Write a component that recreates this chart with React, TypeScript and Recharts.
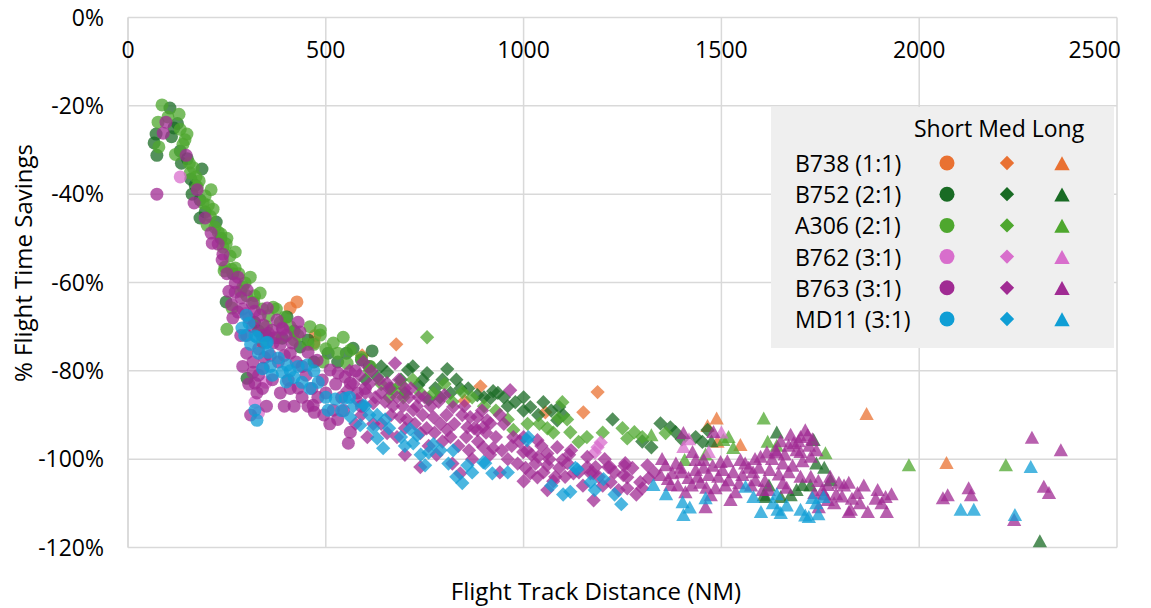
import { ScatterChart, Scatter, XAxis, YAxis, CartesianGrid, Label } from 'recharts'

const FONT = '"Open Sans", sans-serif'
const GRID = '#D9D9D9'
const FS = 23

type Pt = [number, number]

const X_TICKS = [0, 500, 1000, 1500, 2000, 2500]
const Y_TICKS = [-120, -100, -80, -60, -40, -20, 0]
const AIRCRAFT = ['B738 (1:1)', 'B752 (2:1)', 'A306 (2:1)', 'B762 (3:1)', 'B763 (3:1)', 'MD11 (3:1)']
const COLORS = ['#E97132', '#196B24', '#4EA72E', '#D86ECC', '#A02B93', '#0F9ED5']
const BANDS = ['Short', 'Med', 'Long']

// B738
const b738Short: Pt[] = [[410, -65.8], [427, -64.4], [473, -72], [470, -73.6]]
const b738Med: Pt[] = [[592, -76.5], [678, -74], [851, -86.8], [891, -83.5], [1055, -89.4], [1151, -89.4], [1187, -84.8]]
const b738Long: Pt[] = [[1465, -92.5], [1488, -90.8], [1490, -96.1], [1548, -96.8], [1867, -89.8], [2069, -100.9]]

// B752
const b752Short: Pt[] = [[106, -20.5], [116, -25], [125, -24], [71, -26.4], [110, -27], [66, -28.4], [132, -30.2], [73, -31.2],
  [150, -32], [135, -33], [187, -34.3], [159, -36.6], [170, -38], [162, -40], [182, -41.3], [195, -44], [182, -45.4],
  [223, -46.3], [235, -50], [265, -58], [248, -64.4], [320, -69], [301, -81.7], [402, -67.8], [350, -72], [420, -71],
  [390, -72.6], [330, -71], [455, -73], [435, -74.6], [470, -78], [506, -76], [530, -78], [552, -76], [569, -74.9],
  [590, -77.5], [610, -79], [617, -75.5]]
const b752Med: Pt[] = [[600, -82], [630, -81.4], [640, -79], [655, -80.3], [665, -84], [690, -82], [700, -85], [708, -79.8],
  [720, -79], [734, -83.2], [745, -82], [756, -80.5], [760, -86.5], [777, -83.9], [789, -86], [795, -82], [807, -79.6],
  [815, -85], [830, -82], [840, -84], [860, -84], [883, -85.5], [900, -86], [916, -86.2], [923, -84.6], [935, -85],
  [950, -86], [960, -88], [979, -87.1], [1000, -89], [1000, -86], [1017, -88.2], [1037, -90], [1050, -87.1], [1070, -89],
  [1085, -91.2], [1090, -88.2], [1100, -90], [1225, -91], [1300, -96], [1323, -97.3], [1346, -91.9], [1371, -92.8],
  [1384, -93.9], [1400, -95.5], [1435, -95], [1452, -96.1], [1465, -93.4]]
const b752Long: Pt[] = [[1475, -96], [1607, -108.2], [1612, -108.6], [1620, -106], [1640, -94], [1650, -108.6], [1675, -108.2],
  [1690, -107], [1705, -105.9], [1725, -106], [1733, -95.7], [1740, -101], [1760, -102], [1776, -104.8], [2305, -118.6]]

// A306
const a306Short: Pt[] = [[86, -19.8], [129, -21.9], [101, -22.5], [76, -23.7], [132, -25.3], [149, -26.4], [144, -27.7], [78, -29.3],
  [139, -28.7], [120, -31], [155, -33], [165, -34], [157, -35.2], [172, -36.1], [180, -37], [175, -38.4], [210, -39],
  [195, -40.4], [190, -42], [203, -42.5], [215, -43.4], [208, -45], [200, -47], [220, -47.5], [228, -48.6], [235, -49],
  [250, -50], [248, -51.3], [240, -52], [271, -53.1], [258, -54], [245, -56.5], [271, -56.7], [262, -57], [243, -57.4],
  [280, -58], [309, -58.8], [296, -60.1], [290, -61], [285, -62], [334, -62.4], [300, -63], [320, -63], [318, -64.5],
  [263, -65.8], [367, -65.6], [340, -66], [375, -66], [355, -67.5], [397, -67.8], [385, -69], [250, -70.6], [350, -70],
  [410, -70], [460, -70], [430, -72], [380, -72.5], [420, -73], [340, -73.5], [455, -74], [470, -74], [500, -75],
  [486, -70.8], [486, -71.9], [519, -73.7], [544, -72.4], [530, -76], [493, -78], [562, -75.3], [554, -78.3], [590, -77],
  [612, -79]]
const a306Med: Pt[] = [[610, -80], [640, -83], [660, -86], [675, -84.4], [690, -83], [696, -86], [720, -82], [740, -85],
  [756, -72.4], [772, -85], [800, -83], [820, -87], [845, -84.8], [870, -86], [900, -88], [930, -89], [960, -91],
  [974, -93.4], [1010, -92], [1040, -92], [1060, -93], [1075, -94], [1088, -90.7], [1098, -87.1], [1110, -91],
  [1118, -93.9], [1139, -96.1], [1160, -95], [1200, -94], [1250, -93], [1262, -95.3], [1280, -93.9], [1300, -95], [1359, -94.1]]
const a306Long: Pt[] = [[1323, -94.6], [1407, -100.2], [1460, -99], [1505, -95.7], [1518, -95], [1530, -97.5], [1607, -90.8],
  [1617, -96.1], [1640, -97], [1763, -98.7], [1974, -101.4], [2219, -101.4]]

// B762
const b762Short: Pt[] = [[132, -36.1], [298, -67], [349, -82.6], [321, -87.1], [330, -89.5]]
const b762Med: Pt[] = [[1180, -98.5], [1187, -97.3], [1195, -96.2]]
const b762Long: Pt[] = [[1404, -97.3], [1418, -95.5], [1468, -98.4], [1500, -94]]

// B763
const b763Short: Pt[] = [[96, -23.7], [89, -26.2], [147, -31.2], [73, -40], [175, -39], [167, -42], [195, -45.4], [210, -48.8],
  [213, -51.1], [228, -51.3], [240, -53.6], [238, -54.9], [250, -58], [278, -58.8], [271, -60.1], [255, -62], [271, -62.2],
  [301, -61.7], [314, -64.7], [286, -63.5], [262, -65], [290, -66], [320, -66.5], [352, -65.8], [278, -66.7], [334, -67.4],
  [265, -68], [305, -68], [377, -68.5], [430, -69], [364, -70.8], [390, -70.3], [342, -69.6], [315, -70], [392, -70.6],
  [355, -71.5], [435, -71.2], [300, -72], [285, -72], [338, -72], [372, -72.5], [400, -72], [367, -73.7], [415, -73.7],
  [385, -74], [330, -75], [455, -75.8], [300, -76], [410, -76], [395, -76.5], [360, -76.5], [345, -77], [478, -77.6],
  [316, -78], [380, -78], [425, -78], [440, -79], [290, -79], [342, -79.4], [316, -80.3], [511, -79.8], [575, -80],
  [531, -80.5], [330, -81], [450, -81], [549, -81.4], [405, -82.1], [491, -82.1], [365, -82], [321, -82.8], [562, -82.8],
  [305, -83], [525, -83], [430, -83.9], [340, -84], [465, -84], [600, -84], [410, -84], [326, -85], [385, -85], [500, -85],
  [580, -85], [540, -86], [480, -86], [440, -86], [468, -87.8], [455, -88], [420, -88], [395, -88], [350, -88], [590, -88],
  [519, -88.9], [545, -89], [471, -89.4], [310, -90], [495, -90], [530, -91], [510, -92], [562, -93.9], [557, -96.4]]
const b763Med: Pt[] = [[595, -78], [675, -78.3], [560, -80], [615, -80], [585, -81], [685, -82], [610, -83], [570, -83],
  [635, -82], [655, -82.8], [700, -84], [715, -84], [660, -84], [554, -84.4], [640, -85], [600, -85], [800, -85.5],
  [750, -86], [710, -86], [680, -86], [735, -86], [579, -86.6], [625, -86], [620, -87.3], [650, -87], [785, -87],
  [670, -88], [730, -88], [765, -88], [695, -88], [822, -88.2], [850, -88], [721, -88.9], [895, -89], [966, -84.4],
  [590, -90], [665, -90], [745, -90], [805, -90], [845, -90], [940, -90], [688, -90.5], [772, -90.5], [865, -90.5],
  [883, -90.5], [705, -91], [908, -91.2], [916, -91.9], [620, -92], [575, -92], [640, -92], [725, -92], [790, -92],
  [825, -92], [950, -92], [858, -92.8], [898, -92.8], [700, -93], [755, -93], [875, -93], [807, -93.4], [883, -93.4],
  [655, -94.1], [739, -94.1], [775, -94], [905, -94], [974, -95], [1000, -95], [815, -95], [855, -95], [930, -95],
  [680, -95], [605, -95], [1035, -95.7], [760, -97], [795, -96], [885, -96], [990, -96], [898, -97.3], [1085, -97.3],
  [835, -97], [970, -97], [1045, -97], [923, -97.5], [1009, -98], [1120, -98], [862, -98], [945, -98], [999, -98.4],
  [1060, -98.7], [1037, -99.5], [1161, -99.5], [700, -99], [780, -99], [915, -99], [1020, -99], [1115, -99], [870, -100],
  [960, -100], [1065, -100], [1205, -100], [1098, -100.2], [1111, -100.9], [1257, -100.9], [1060, -101.4], [1313, -101.4],
  [985, -101], [1030, -101], [820, -101], [739, -101.8], [1161, -101.8], [1182, -101.8], [1214, -101.8], [1219, -101.8],
  [1255, -101.5], [1005, -102], [1090, -102], [1275, -102], [840, -103.2], [1017, -103.2], [1126, -103.2], [1169, -103.2],
  [1176, -103.2], [1050, -103], [1140, -103], [1230, -103], [1330, -103], [940, -103], [1252, -103.6], [1035, -104.1],
  [1262, -104.1], [1080, -104], [1105, -104], [1190, -104], [1316, -104.3], [1220, -105.2], [1295, -105.2], [1075, -105],
  [1000, -105], [1200, -106], [1150, -106], [1262, -106.6], [1300, -106.6], [1240, -107], [1060, -107], [1285, -108],
  [1177, -109.3]]
const b763Long: Pt[] = [[1712, -93.5], [1404, -94.1], [1480, -93.9], [1718, -94.6], [1675, -94.5], [1700, -95], [1730, -95.5],
  [1683, -96.4], [1695, -96], [1650, -96], [1670, -97], [1722, -97], [1427, -98.4], [1637, -98], [1690, -98], [1740, -98],
  [1640, -98.5], [1615, -98.5], [1700, -98.4], [1599, -99.5], [1726, -99.5], [1660, -99], [1350, -100], [1435, -100.2],
  [1455, -100.2], [1548, -100.2], [1628, -100], [1585, -100], [1515, -100.5], [1705, -100.5], [1498, -100.7], [1655, -101],
  [1385, -101], [1560, -101], [1478, -101.5], [1680, -101.5], [1359, -101.4], [1397, -102], [1569, -102], [1595, -102],
  [1435, -102.5], [1503, -102.5], [1622, -102.5], [1455, -102], [1670, -103], [1400, -103], [1530, -103], [1580, -103],
  [1376, -103.2], [1346, -103.6], [1468, -103.6], [1553, -103.6], [1645, -103.5], [1700, -104], [1726, -104], [1440, -104],
  [1492, -104], [1775, -104], [1417, -104.3], [1365, -104.5], [1518, -104.8], [1586, -104.8], [1610, -105], [1745, -105],
  [1447, -105.4], [1797, -105.4], [1822, -105.4], [1545, -105.5], [1655, -105.5], [1371, -105.9], [1769, -105.9],
  [1390, -106], [1425, -106], [1510, -106], [1575, -106], [1810, -106], [1860, -106], [1462, -106.5], [1665, -106.5],
  [1485, -106.6], [1604, -107], [1620, -107], [1755, -107], [1895, -107], [1409, -107.5], [1536, -107.5], [1735, -107.7],
  [1844, -107.7], [1760, -108], [1790, -108], [1930, -108], [1473, -108.2], [1805, -108.5], [1915, -108.6], [1890, -109],
  [1830, -109], [1523, -109.3], [1769, -109.3], [1785, -110], [1850, -110], [1905, -110], [1460, -110.9], [1746, -110.9],
  [1827, -111.5], [1822, -112], [1870, -112], [1918, -112], [2285, -95.2], [2358, -98], [2125, -106.6], [2315, -106.3],
  [2328, -107.7], [2072, -108.2], [2131, -108.2], [2060, -108.9], [2240, -113.8]]

// MD11
const md11Short: Pt[] = [[299, -67.4], [306, -69.2], [288, -70.3], [321, -72.1], [295, -72], [326, -72.4], [352, -73.5],
  [349, -73.7], [310, -74], [354, -75.8], [330, -76], [380, -77.1], [402, -78.7], [453, -78.7], [430, -79], [360, -79],
  [340, -79.5], [410, -80], [470, -80], [390, -80.3], [365, -81], [420, -81.5], [400, -82.5], [440, -82.6], [481, -82.6],
  [460, -84], [549, -86.2], [500, -86], [560, -86], [524, -86.4], [321, -88.9], [506, -88.9], [540, -89], [326, -91.2]]
const md11Med: Pt[] = [[595, -87.8], [570, -88], [600, -88], [630, -90], [610, -90], [562, -90.5], [650, -91], [587, -92.3],
  [620, -93], [660, -93], [713, -93.2], [731, -94.6], [690, -95], [1012, -95], [630, -95.3], [1009, -95.7], [721, -96.4],
  [772, -96.6], [700, -97], [645, -97.5], [822, -98], [790, -98], [760, -98.5], [740, -99], [898, -100.7], [903, -100.9],
  [810, -101], [751, -101.4], [858, -101.4], [1131, -102], [1136, -102.3], [921, -103.2], [870, -103], [960, -103],
  [830, -104], [1202, -104.5], [1169, -105.2], [845, -105.4], [1070, -106], [1180, -107], [1118, -107.4], [1100, -108],
  [1230, -108], [1247, -110.2]]
const md11Long: Pt[] = [[1328, -105.9], [1561, -106.3], [1360, -108], [1640, -108], [1581, -108.6], [1758, -108.6], [1730, -108.8],
  [1460, -108.9], [1402, -109.8], [1630, -110], [1740, -110], [1665, -110.5], [1420, -111], [1642, -111.5], [1700, -111.5],
  [1600, -112], [1650, -112.2], [1745, -112.5], [1404, -112.7], [1712, -112.8], [1721, -113.1], [2105, -111.5], [2138, -111.5],
  [2242, -112.7], [2282, -101.8]]

const GROUPS: Pt[][][] = [
  [b738Short, b738Med, b738Long],
  [b752Short, b752Med, b752Long],
  [a306Short, a306Med, a306Long],
  [b762Short, b762Med, b762Long],
  [b763Short, b763Med, b763Long],
  [md11Short, md11Med, md11Long],
]

const toPts = (arr: Pt[]) => arr.map(([x, y]) => ({ x, y }))

function marker(band: number, cx: number, cy: number, color: string, s: number, op: number) {
  if (band === 0) return <circle cx={cx} cy={cy} r={s * 0.5} fill={color} fillOpacity={op} />
  if (band === 1) {
    const h = s * 0.55
    return <polygon points={`${cx},${cy - h} ${cx + h},${cy} ${cx},${cy + h} ${cx - h},${cy}`} fill={color} fillOpacity={op} />
  }
  const w = s * 0.55
  return <polygon points={`${cx},${cy - s * 0.55} ${cx + w},${cy + s * 0.45} ${cx - w},${cy + s * 0.45}`} fill={color} fillOpacity={op} />
}

const XTick = ({ x, payload }: any) => {
  const last = payload.value === 2500
  return (
    <text x={last ? x + 4 : x} y={58} textAnchor={last ? 'end' : 'middle'} fontSize={FS} fontFamily={FONT} fill="#000">
      {payload.value}
    </text>
  )
}

export default function App() {
  return (
    <div style={{ position: 'absolute', left: 0, top: 0, width: 1151, height: 608, background: '#fff' }}>
      <ScatterChart width={1151} height={608} margin={{ top: 16.5, right: 34, bottom: 0, left: 0 }}>
        <CartesianGrid stroke={GRID} strokeWidth={1.5} />
        <XAxis type="number" dataKey="x" orientation="top" height={1} domain={[0, 2500]} ticks={X_TICKS}
          tick={<XTick />} tickLine={false} axisLine={{ stroke: GRID }} />
        <XAxis xAxisId="title" type="number" orientation="bottom" height={60.5} domain={[0, 2500]} tick={false} axisLine={false}>
          <Label content={() => (
            <text x={596} y={600} textAnchor="middle" fontSize={24} fontFamily={FONT} fill="#000">Flight Track Distance (NM)</text>
          )} />
        </XAxis>
        <YAxis type="number" dataKey="y" width={128} domain={[-120, 0]} ticks={Y_TICKS} tickFormatter={(v) => `${v}%`}
          tickLine={false} tickSize={0} tickMargin={24} axisLine={{ stroke: GRID, strokeWidth: 1.5 }}
          tick={{ fontSize: FS, fontFamily: FONT, fill: '#000' }}>
          <Label content={() => (
            <text x={22} y={263} transform="rotate(-90 22 263)" textAnchor="middle" dominantBaseline="central"
              fontSize={24} fontFamily={FONT} fill="#000">% Flight Time Savings</text>
          )} />
        </YAxis>
        {GROUPS.map((bands, ai) =>
          bands.map((pts, bi) => (
            <Scatter key={`${ai}-${bi}`} name={`${AIRCRAFT[ai]} ${BANDS[bi]}`} data={toPts(pts)} isAnimationActive={false}
              shape={(p: any) => marker(bi, p.cx, p.cy, COLORS[ai], 13, 0.75)} />
          ))
        )}
      </ScatterChart>
      <svg style={{ position: 'absolute', left: 771, top: 107 }} width={343} height={241}>
        <rect x={0} y={0} width={343} height={241} fill="#EFEFEF" />
        <text x={143} y={30} fontSize={FS} fontFamily={FONT} fill="#000">Short Med Long</text>
        {AIRCRAFT.map((name, i) => (
          <g key={name}>
            <text x={24} y={56 + i * 31.2} dominantBaseline="central" fontSize={FS} fontFamily={FONT} fill="#000">{name}</text>
            {marker(0, 176, 56 + i * 31.2, COLORS[i], 15, 1)}
            {marker(1, 236, 56 + i * 31.2, COLORS[i], 13, 1)}
            {marker(2, 291, 57 + i * 31.2, COLORS[i], 14, 1)}
          </g>
        ))}
      </svg>
    </div>
  )
}
